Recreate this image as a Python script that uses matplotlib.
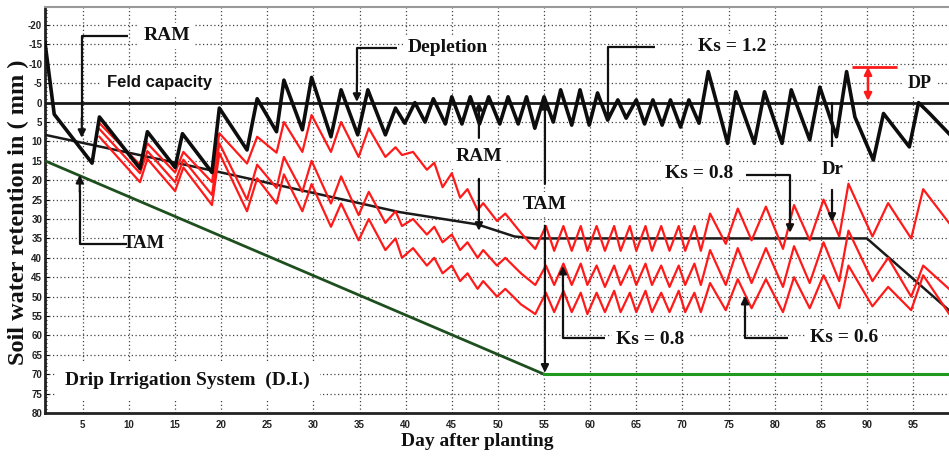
import matplotlib
matplotlib.use("Agg")
import matplotlib.pyplot as plt

# ---------------- data (day after planting, mm) ----------------
fc_days = [0.9, 98.9]
fc_mm = [0, 0]

tam_days = [0.9, 55, 98.9]
tam_mm = [15, 70, 70]

ram_days = [0.9, 20, 39.3, 47.8, 51.8, 54, 90, 98.9]
ram_mm = [8.3, 18, 28.2, 31.4, 34.5, 35, 35, 53.5]

ks12_days = [0.9, 1.9, 6.0, 6.8, 11.2, 12.0, 15.0, 15.8, 19.0, 19.8, 22.8, 23.9, 26.0, 26.8,
             28.8, 29.8, 31.9, 33.0, 34.8, 35.9, 37.8, 38.9, 39.9, 41.0, 42.1, 43.0, 44.3, 45.0,
             46.1, 47.0, 48.0, 49.0, 50.2, 51.1, 52.2, 53.1, 54.0, 55.0, 56.0, 56.8, 58.0, 58.9,
             59.9, 60.8, 61.9, 63.0, 63.9, 65.0, 65.9, 66.8, 67.8, 68.7, 69.8, 70.7, 71.8, 72.8,
             74.9, 75.8, 77.8, 78.9, 80.8, 81.8, 83.8, 84.9, 86.7, 87.8, 88.7, 90.7, 91.8, 94.6,
             95.6, 96.8, 98.9]
ks12_mm = [-15.5, 3.0, 15.6, 3.7, 17.0, 7.5, 16.7, 8.0, 18.0, 1.4, 12.2, -1.0, 7.5, -5.8,
           7.0, -6.5, 8.8, -3.3, 8.3, -3.3, 8.3, 1.4, 5.3, 0.0, 5.0, -1.0, 5.5, -1.5,
           5.5, -1.5, 5.5, -1.5, 5.5, -1.5, 5.5, -1.5, 6.6, -1.5, 5.0, -3.3, 5.8, -3.3,
           5.8, -2.5, 4.5, -0.7, 4.0, -0.7, 5.5, -0.7, 5.8, -0.7, 6.3, -0.7, 5.3, -8.0,
           10.5, -2.8, 10.5, -2.8, 10.5, -3.3, 9.6, -4.0, 8.8, -8.0, 3.7, 14.8, 2.8, 11.4,
           0.0, 2.8, 8.0]

red_days = [6.8, 11.2, 12.0, 15.0, 15.9, 19.0, 19.8, 22.8, 23.9, 26.0, 26.8, 28.8, 29.8, 31.9,
            33.0, 34.9, 36.0, 37.8, 38.9, 39.6, 40.8, 42.3, 43.1, 44.0, 45.0, 45.9, 46.7, 47.8,
            48.4, 49.9, 50.8, 52.5, 54.05, 55.2, 56.1, 57.1, 58.0, 58.98, 59.7, 60.7, 61.6, 62.6,
            63.3, 64.3, 65.0, 66.0, 66.7, 67.7, 68.6, 69.6, 70.3, 71.3, 72.0, 73.0, 74.7, 76.0,
            77.5, 79.05, 80.9, 82.1, 83.8, 85.3, 87.0, 88.0, 90.6, 92.3, 94.8, 96.1, 98.9]
red_top_mm = [5.3, 16.0, 10.5, 18.0, 12.7, 20.5, 7.9, 15.7, 8.8, 12.9, 5.0, 12.7, 3.2, 12.7,
              5.0, 14.0, 6.6, 14.0, 11.5, 13.5, 12.7, 17.3, 15.5, 21.8, 18.2, 24.5, 22.3, 27.7,
              25.9, 30.5, 28.6, 33.6, 37.7, 31.8, 38.2, 31.8, 38.2, 31.8, 38.2, 31.8, 38.2, 31.8,
              38.2, 31.8, 38.2, 31.8, 38.2, 31.8, 38.2, 31.8, 38.2, 31.8, 38.2, 28.6, 36.4, 27.3,
              35.5, 26.8, 37.7, 26.4, 35.5, 25.0, 34.5, 20.9, 34.5, 25.9, 35.0, 22.3, 31.0]
red_mid_mm = [6.8, 18.2, 12.5, 20.5, 14.7, 23.8, 10.5, 25.0, 16.0, 22.0, 14.0, 23.0, 15.0, 26.0,
              19.0, 29.0, 23.0, 31.0, 28.0, 31.8, 30.0, 34.0, 32.0, 36.0, 34.0, 38.0, 36.0, 40.0,
              38.0, 42.0, 40.0, 44.0, 47.0, 42.0, 47.0, 41.5, 47.0, 41.5, 47.0, 42.0, 47.5, 42.0,
              47.0, 42.0, 47.0, 41.5, 47.0, 42.0, 47.5, 42.0, 47.0, 41.5, 47.0, 38.0, 47.0, 37.5,
              46.5, 37.5, 47.5, 37.0, 46.5, 36.0, 46.0, 33.0, 46.0, 40.0, 50.0, 42.0, 48.0]
red_low_mm = [8.8, 20.5, 14.5, 22.8, 16.7, 26.4, 13.0, 28.0, 19.5, 26.0, 18.5, 28.0, 21.0, 32.0,
              26.0, 35.5, 30.0, 38.0, 35.0, 40.0, 37.5, 42.0, 40.0, 44.0, 42.0, 46.0, 44.0, 48.0,
              46.0, 50.0, 48.0, 52.0, 54.5, 49.0, 54.0, 48.5, 54.0, 49.0, 54.5, 49.0, 54.0, 48.5,
              54.0, 49.0, 54.0, 48.5, 54.0, 49.0, 54.0, 48.5, 54.0, 49.0, 54.0, 46.5, 53.5, 45.5,
              53.0, 45.5, 54.0, 45.0, 53.0, 44.5, 53.0, 42.0, 52.5, 47.5, 53.5, 44.5, 54.4]

x_ticks = list(range(5, 100, 5))
y_ticks = list(range(-20, 81, 5))

# ---------------- figure ----------------
W, H = 949, 458
fig = plt.figure(figsize=(W / 100, H / 100), dpi=100)
ax = fig.add_axes([45 / W, 45 / H, (W - 45) / W, 406 / H])
ax.set_xlim(0.9, 98.9)
ax.set_ylim(80, -24.65)

ax.set_xticks(x_ticks)
ax.set_yticks(y_ticks)
ax.set_yticks(range(-24, 81, 1), minor=True)
tick_font = dict(family="Liberation Sans", weight="bold", size=7)
ax.set_xticklabels([str(v) for v in x_ticks], color="#222222", **tick_font)
ax.set_yticklabels([str(v) for v in y_ticks], color="#222222", **tick_font)
ax.tick_params(axis="x", which="major", length=0, pad=5)
ax.tick_params(axis="y", which="major", length=3, direction="in", pad=2)
ax.tick_params(axis="y", which="minor", length=1.5, direction="in")
ax.set_axisbelow(True)
ax.grid(True, which="major", color="#444444", linestyle=(0, (1, 2)), linewidth=0.9)

for s in ["left", "bottom"]:
    ax.spines[s].set_linewidth(2.0)
    ax.spines[s].set_color("#222222")
ax.spines["top"].set_color("#999999")
ax.spines["top"].set_linewidth(1.5)
ax.spines["right"].set_visible(False)

lab_font = dict(family="Liberation Serif", weight="bold", color="#111111")
ax.set_ylabel("Soil water retention in ( mm )", fontsize=17.5, **lab_font)
ax.yaxis.label.set_va("center")
ax.yaxis.set_label_coords((18 - 45) / 904, (413 - 212) / 406)
ax.set_xlabel("Day after planting", fontsize=14, **lab_font)
ax.xaxis.label.set_va("center")
ax.xaxis.set_label_coords((477 - 45) / 904, (413 - 441) / 406)

# ---------------- lines ----------------
ax.plot(fc_days, fc_mm, color="#1a1a1a", lw=2.0, zorder=4)
ax.plot(tam_days[:2], tam_mm[:2], color="#1e4f1e", lw=2.0, zorder=4)
ax.plot(tam_days[1:], tam_mm[1:], color="#1f9a1f", lw=2.2, zorder=4)
ax.plot(ram_days, ram_mm, color="#1a1a1a", lw=1.8, zorder=4)
for series in (red_top_mm, red_mid_mm, red_low_mm):
    ax.plot(red_days, series, color="#ff1a1a", lw=1.6, zorder=5)
ax.plot(ks12_days, ks12_mm, color="#0d0d0d", lw=2.6, zorder=6)

# ---------------- annotations ----------------
def px2d(px, py):
    return ((px - 36.9) / 9.222, (py - 102.7) / 3.8825)

serif_b = dict(family="Liberation Serif", weight="bold", color="#111111")
box = dict(facecolor="white", edgecolor="none", pad=3)

def label(px, py, txt, size=14, **kw):
    x, y = px2d(px, py)
    ax.text(x, y, txt, ha="center", va="center", fontsize=size, bbox=box, zorder=3, **serif_b, **kw)

def seg(points, color="#111111", lw=1.6):
    xs, ys = zip(*[px2d(*p) for p in points])
    ax.plot(xs, ys, color=color, lw=lw, zorder=7, solid_capstyle="butt")

def arrow(p0, p1, color="#111111", lw=1.6, style="-|>"):
    ax.annotate("", xy=px2d(*p1), xytext=px2d(*p0),
                arrowprops=dict(arrowstyle=style, color=color, lw=lw, mutation_scale=11,
                                shrinkA=0, shrinkB=0), zorder=7)

# RAM (left)
label(167, 36, "RAM")
seg([(128, 36), (82, 36), (82, 120)])
arrow((82, 118), (82, 138))

# Feld capacity
x, y = px2d(160, 83)
ax.text(x, y, "Feld capacity", ha="center", va="center", fontsize=12, weight="bold",
        family="Liberation Sans", color="#111111",
        bbox=dict(facecolor="white", edgecolor="none", pad=5), zorder=3)

# Depletion
label(448, 48, "Depletion")
seg([(397, 48), (357, 48), (357, 85)])
arrow((357, 84), (357, 102))

# Ks = 1.2
label(732, 47, "Ks = 1.2")
seg([(655, 47), (608, 47), (608, 105)])
arrow((608, 104), (608, 122))

# DP
label(920, 84, "DP", size=13)
seg([(852, 67), (897, 67)], color="#ff1a1a", lw=2.0)
arrow((868, 84), (868, 67), color="#ff1a1a", lw=1.8)
arrow((868, 84), (868, 101), color="#ff1a1a", lw=1.8)

# RAM (middle)
label(479, 157, "RAM")
arrow((479, 138), (479, 102))
arrow((479, 179), (479, 231))

# TAM (middle)
label(545, 205, "TAM")
arrow((545, 184), (545, 101))
arrow((545, 226), (545, 373))

# TAM (left)
label(144, 244, "TAM", size=13.5)
seg([(127, 244), (80, 244), (80, 190)])
arrow((80, 192), (80, 175))

# Ks = 0.8 (upper)
label(699, 174, "Ks = 0.8")
seg([(746, 175), (790, 175), (790, 215)])
arrow((790, 214), (790, 233))

# Dr
label(833, 170, "Dr", size=13.5)
seg([(832, 102), (832, 147)])
arrow((832, 190), (832, 222))

# Ks = 0.8 (lower)
label(650, 340, "Ks = 0.8")
seg([(605, 338), (563, 338), (563, 285)])
arrow((563, 286), (563, 266))

# Ks = 0.6
label(844, 338, "Ks = 0.6")
seg([(788, 338), (745, 338), (745, 312)])
arrow((745, 314), (745, 296))

# Drip Irrigation System
x, y = px2d(188, 381)
ax.text(x, y, "Drip Irrigation System  (D.I.)", ha="center", va="center", fontsize=14,
        bbox=dict(facecolor="white", edgecolor="none", pad=7), zorder=3, **serif_b)

fig.savefig("out.png", dpi=100)
